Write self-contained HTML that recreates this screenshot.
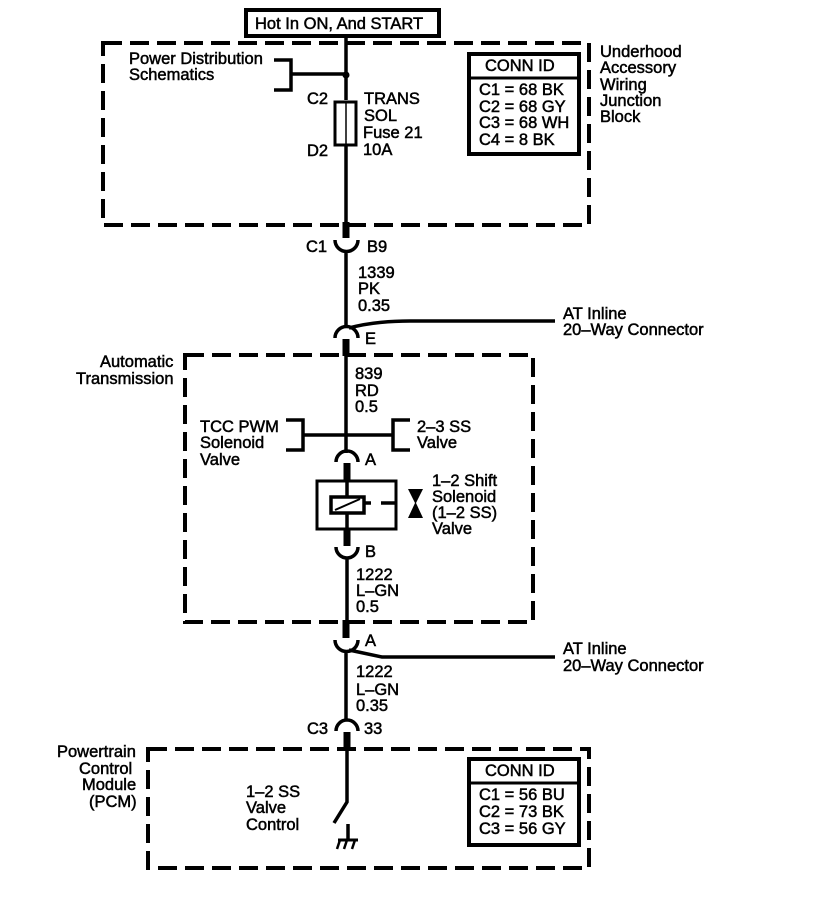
<!DOCTYPE html>
<html><head><meta charset="utf-8"><style>
html,body{margin:0;padding:0;background:#fff}
svg{display:block}
text{font-family:"Liberation Sans",sans-serif;font-size:16.5px;fill:#000;stroke:#000;stroke-width:.5px}
.d{fill:none;stroke:#000;stroke-width:4;stroke-dasharray:19 8}
.l{fill:none;stroke:#000;stroke-width:3.5}
.t{fill:none;stroke:#000;stroke-width:7}
</style></head><body>
<svg width="816" height="910" viewBox="0 0 816 910" xmlns="http://www.w3.org/2000/svg">
<rect x="103" y="43" width="486" height="182" class="d"/>
<rect x="185" y="355" width="348" height="267" class="d"/>
<rect x="148" y="749" width="441" height="119" class="d"/>

<rect x="246" y="10" width="193" height="26" fill="#fff" stroke="#000" stroke-width="4"/>
<text x="255" y="29">Hot In ON, And START</text>

<path class="l" d="M346 38V100M346 145V225"/>
<circle cx="346" cy="75" r="3.5"/>
<path class="l" d="M274 60H291V90H274M291 74H346"/>
<rect x="335" y="102" width="21" height="43" fill="none" stroke="#000" stroke-width="3"/>
<path d="M346 102V145" stroke="#000" stroke-width="1.5"/>
<text x="129" y="64">Power Distribution</text>
<text x="129" y="80">Schematics</text>
<text x="307" y="104">C2</text>
<text x="307" y="156">D2</text>
<text x="364" y="104">TRANS</text>
<text x="364" y="121">SOL</text>
<text x="363" y="138">Fuse 21</text>
<text x="363" y="155">10A</text>

<rect x="469" y="54" width="110" height="100" fill="#fff" stroke="#000" stroke-width="4"/>
<path d="M469 78H579" stroke="#000" stroke-width="3"/>
<text x="485" y="71">CONN ID</text>
<text x="479" y="95">C1 = 68 BK</text>
<text x="479" y="112">C2 = 68 GY</text>
<text x="479" y="128">C3 = 68 WH</text>
<text x="479" y="145">C4 = 8 BK</text>
<text x="600" y="57">Underhood</text>
<text x="600" y="73">Accessory</text>
<text x="600" y="90">Wiring</text>
<text x="600" y="106">Junction</text>
<text x="600" y="122">Block</text>

<path class="t" d="M346 222V238"/>
<path class="l" d="M335 240A11.500 11.500 0 0 0 358 240M346 251V327"/>
<text x="306" y="252">C1</text>
<text x="367" y="252">B9</text>
<text x="358" y="278">1339</text>
<text x="358" y="294">PK</text>
<text x="358" y="311">0.35</text>

<path class="l" d="M335 338A11.500 11.500 0 0 1 358 338"/>
<path class="l" d="M349 328Q375 321 410 321H555"/>
<path class="t" d="M346 339V356"/>
<path class="l" d="M346 356V453"/>
<text x="365" y="344">E</text>
<text x="563" y="319">AT Inline</text>
<text x="563" y="335">20–Way Connector</text>
<text x="100" y="367">Automatic</text>
<text x="76" y="384">Transmission</text>
<text x="355" y="379">839</text>
<text x="355" y="396">RD</text>
<text x="355" y="412">0.5</text>

<path class="l" d="M286 420H303V450H286M303 435H393M410 420H393V450H410"/>
<text x="200" y="432">TCC PWM</text>
<text x="200" y="448">Solenoid</text>
<text x="200" y="465">Valve</text>
<text x="417" y="432">2–3 SS</text>
<text x="417" y="448">Valve</text>

<path class="l" d="M336 462A11 11 0 0 1 358 462"/>
<text x="365" y="465">A</text>
<path class="t" d="M347 463V481"/>
<rect x="317" y="481" width="79" height="48" fill="none" stroke="#000" stroke-width="3"/>
<path class="l" d="M347 481V496M347 513V530"/>
<rect x="331" y="497" width="33" height="16" fill="#fff" stroke="#000" stroke-width="3.500"/>
<path d="M335 510L360 499" stroke="#000" stroke-width="2"/>
<path class="l" d="M364 503H371M381 503H396"/>
<path d="M408 489H423L416 503L423 518H408L415 503Z"/>
<text x="432" y="486">1–2 Shift</text>
<text x="432" y="502">Solenoid</text>
<text x="432" y="518">(1–2 SS)</text>
<text x="432" y="534">Valve</text>

<path class="t" d="M347 530V546"/>
<path class="l" d="M336 547A11 11 0 0 0 358 547M347 558V622"/>
<text x="365" y="557">B</text>
<text x="356" y="580">1222</text>
<text x="356" y="596">L–GN</text>
<text x="356" y="612">0.5</text>

<path class="t" d="M346 620V638"/>
<path class="l" d="M335 640A11.500 11.500 0 0 0 358 640M346 651V721"/>
<path class="l" d="M349 650L382 657H555"/>
<text x="365" y="646">A</text>
<text x="563" y="654">AT Inline</text>
<text x="563" y="671">20–Way Connector</text>
<text x="356" y="677">1222</text>
<text x="356" y="695">L–GN</text>
<text x="356" y="711">0.35</text>

<path class="l" d="M336 731A11 11 0 0 1 358 731"/>
<path class="t" d="M347 732V749"/>
<text x="307" y="734">C3</text>
<text x="364" y="734">33</text>

<path class="l" d="M347 749V802L334 823"/>
<path class="l" d="M348 824V840"/>
<path d="M338 840H358" stroke="#000" stroke-width="3" fill="none"/>
<path d="M340 840L337 849M347 840L344 849M355 840L352 849" stroke="#000" stroke-width="2.500" fill="none"/>

<text x="57" y="757">Powertrain</text>
<text x="79" y="774">Control</text>
<text x="82" y="790">Module</text>
<text x="89" y="807">(PCM)</text>
<text x="246" y="797">1–2 SS</text>
<text x="246" y="813">Valve</text>
<text x="246" y="830">Control</text>

<rect x="469" y="759" width="110" height="86" fill="#fff" stroke="#000" stroke-width="4"/>
<path d="M469 783H579" stroke="#000" stroke-width="3"/>
<text x="485" y="776">CONN ID</text>
<text x="479" y="800">C1 = 56 BU</text>
<text x="479" y="817">C2 = 73 BK</text>
<text x="479" y="834">C3 = 56 GY</text>
</svg>
</body></html>
